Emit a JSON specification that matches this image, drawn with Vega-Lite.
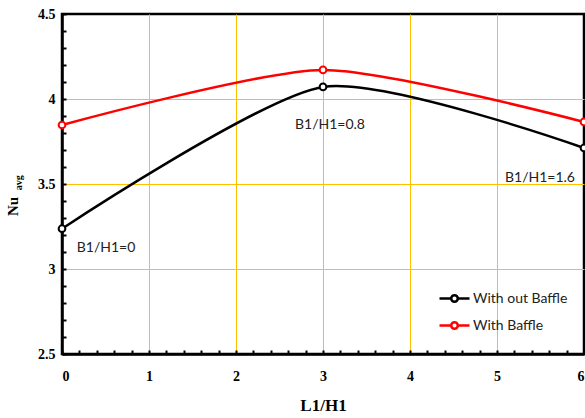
{
  "$schema": "https://vega.github.io/schema/vega-lite/v6.json",
  "width": 522,
  "height": 340,
  "autosize": "none",
  "padding": {"left": 62, "top": 14, "right": 1, "bottom": 64},
  "background": "white",
  "config": {
    "view": {"stroke": "black", "strokeWidth": 2.5},
    "axis": {
      "labelFont": "Liberation Serif",
      "labelFontWeight": "bold",
      "labelFontSize": 14,
      "labelColor": "black",
      "labelOverlap": false,
      "titleFont": "Liberation Serif",
      "titleFontWeight": "bold",
      "titleFontSize": 17,
      "titleColor": "black",
      "domainColor": "black",
      "domainWidth": 2.5,
      "tickColor": "black",
      "tickWidth": 2,
      "gridWidth": 1,
      "gridOpacity": 1
    }
  },
  "datasets": {
    "series": [
      {"x": 0, "y": 3.237, "series": "With out Baffle"},
      {"x": 3, "y": 4.071, "series": "With out Baffle"},
      {"x": 6, "y": 3.712, "series": "With out Baffle"},
      {"x": 0, "y": 3.847, "series": "With Baffle"},
      {"x": 3, "y": 4.171, "series": "With Baffle"},
      {"x": 6, "y": 3.865, "series": "With Baffle"}
    ],
    "notes": [
      {"x": 0.506, "y": 3.124, "label": "B1/H1=0"},
      {"x": 3.08, "y": 3.847, "label": "B1/H1=0.8"},
      {"x": 5.494, "y": 3.535, "label": "B1/H1=1.6"}
    ],
    "sub": [
      {"x": -0.5, "y": 3.508, "label": "avg"}
    ]
  },
  "layer": [
    {
      "data": {"name": "series"},
      "mark": {"type": "line", "interpolate": "cardinal", "tension": 0.3, "strokeWidth": 2.5},
      "encoding": {
        "x": {
          "field": "x", "type": "quantitative",
          "scale": {"domain": [0, 6], "nice": false},
          "axis": {
            "title": "L1/H1",
            "tickCount": 100,
            "values": [0,0.2,0.4,0.6,0.8,1,1.2,1.4,1.6,1.8,2,2.2,2.4,2.6,2.8,3,3.2,3.4,3.6,3.8,4,4.2,4.4,4.6,4.8,5,5.2,5.4,5.6,5.8,6],
            "labelExpr": "indexof([0,1,2,3,4,5,6], datum.value) >= 0 ? '' + datum.value : ''",
            "tickSize": -4,
            "labelPadding": 19,
            "titlePadding": 14,
            "grid": true,
            "gridColor": {"condition": {"test": "indexof([1,2,3,4,5], datum.value) >= 0", "value": "#FFC000"}, "value": "rgba(0,0,0,0)"}
          }
        },
        "y": {
          "field": "y", "type": "quantitative",
          "scale": {"domain": [2.5, 4.5], "nice": false, "zero": false},
          "axis": {
            "title": "Nu",
            "titleFontSize": 15,
            "titleY": 192,
            "titleX": -50,
            "titleBaseline": "middle",
            "tickCount": 100,
            "values": [2.5,2.6,2.7,2.8,2.9,3,3.1,3.2,3.3,3.4,3.5,3.6,3.7,3.8,3.9,4,4.1,4.2,4.3,4.4,4.5],
            "labelExpr": "indexof([2.5,3,3.5,4,4.5], datum.value) >= 0 ? '' + datum.value : ''",
            "tickSize": -4,
            "labelPadding": 11,
            "grid": true,
            "gridColor": {"condition": {"test": "indexof([3,3.5,4], datum.value) >= 0", "value": "#FFC000"}, "value": "rgba(0,0,0,0)"}
          }
        },
        "stroke": {
          "field": "series", "type": "nominal",
          "scale": {"domain": ["With out Baffle", "With Baffle"], "range": ["black", "#FF0000"]},
          "legend": {
            "title": null,
            "orient": "none",
            "legendX": 376,
            "legendY": 268,
            "symbolType": "M-1,0H-0.22M0.22,0H1M0.22,0A0.22,0.22 0 1,1 -0.22,0A0.22,0.22 0 1,1 0.22,0",
            "symbolSize": 900,
            "symbolStrokeWidth": 2.5,
            "symbolFillColor": "white",
            "labelFont": "Lato",
            "labelFontSize": 14,
            "labelColor": "#222222",
            "labelOffset": 2,
            "rowPadding": 2
          }
        }
      }
    },
    {
      "data": {"name": "series"},
      "mark": {"type": "point", "filled": true, "fill": "white", "size": 45, "strokeWidth": 2, "opacity": 1},
      "encoding": {
        "x": {"field": "x", "type": "quantitative"},
        "y": {"field": "y", "type": "quantitative"},
        "stroke": {"field": "series", "type": "nominal"}
      }
    },
    {
      "data": {"name": "notes"},
      "mark": {"type": "text", "font": "Lato", "fontSize": 14, "color": "#222222", "align": "center", "baseline": "middle"},
      "encoding": {
        "x": {"field": "x", "type": "quantitative"},
        "y": {"field": "y", "type": "quantitative"},
        "text": {"field": "label"}
      }
    },
    {
      "data": {"name": "sub"},
      "mark": {"type": "text", "font": "Liberation Serif", "fontWeight": "bold", "fontSize": 10, "color": "black", "angle": 270, "align": "center", "baseline": "middle"},
      "encoding": {
        "x": {"field": "x", "type": "quantitative"},
        "y": {"field": "y", "type": "quantitative"},
        "text": {"field": "label"}
      }
    }
  ]
}
